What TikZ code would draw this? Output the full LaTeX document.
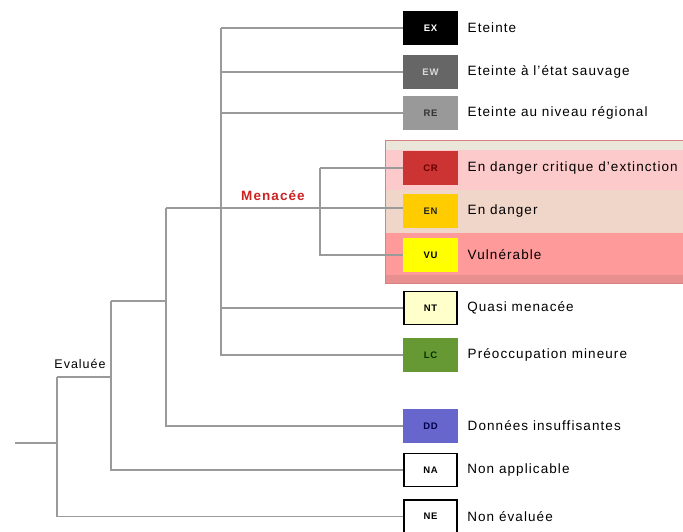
\documentclass[tikz,border=0pt]{standalone}
\usepackage{fontspec}
\setmainfont{Liberation Sans}[LetterSpace=8]
\usetikzlibrary{positioning}

\definecolor{treegray}{HTML}{9A9A9A}
\definecolor{menred}{HTML}{CC2222}
\definecolor{catEX}{HTML}{000000}
\definecolor{catEW}{HTML}{666666}
\definecolor{catRE}{HTML}{999999}
\definecolor{catCR}{HTML}{CC3333}
\definecolor{catEN}{HTML}{FFCC00}
\definecolor{catVU}{HTML}{FFFF00}
\definecolor{catNT}{HTML}{FFFFCC}
\definecolor{catLC}{HTML}{669933}
\definecolor{catDD}{HTML}{6666CC}
\definecolor{bandtop}{HTML}{EBE6DA}
\definecolor{bandCR}{HTML}{FCCACA}
\definecolor{bandEN}{HTML}{EFD6C8}
\definecolor{bandVU}{HTML}{FF9A9A}
\definecolor{bandlow}{HTML}{E89090}
\definecolor{bandedge}{HTML}{D98080}

\begin{document}
\begin{tikzpicture}[x=1pt, y=-1pt,
    tree/.style={draw=treegray, line width=1.3pt},
    catbox/.style={minimum width=55pt, minimum height=34pt, inner sep=0pt,
      font=\fontsize{9.5}{10}\selectfont\bfseries},
    framed/.style={catbox, draw=black, line width=1.6pt, minimum width=53pt, minimum height=33pt},
    catname/.style={right=6pt of #1, font=\fontsize{13.5}{15}\selectfont}]
    \useasboundingbox (0,0) rectangle (683,531);

    % threatened band
    \fill[bandedge] (385,140) rectangle (683,284);
    \fill[bandtop] (386,141) rectangle (683,150);
    \fill[bandCR] (386,150) rectangle (683,190);
    \fill[bandEN] (386,190) rectangle (683,233);
    \fill[bandVU] (386,233) rectangle (683,275);
    \fill[bandlow] (386,275) rectangle (683,283);

    % category boxes
    \node[catbox, fill=catEX, text=white] (ex) at (430.5,28) {EX};
    \node[catbox, fill=catEW, text=white!85!black] (ew) at (430.5,72) {EW};
    \node[catbox, fill=catRE, text=black!80] (re) at (430.5,113) {RE};
    \node[catbox, fill=catCR, text=black!60!red] (cr) at (430.5,168) {CR};
    \node[catbox, fill=catEN, text=black!85] (en) at (430.5,211) {EN};
    \node[catbox, fill=catVU, text=black] (vu) at (430.5,255) {VU};
    \node[framed, fill=catNT] (nt) at (430.5,308) {NT};
    \node[catbox, fill=catLC, text=black!80!green] (lc) at (430.5,355) {LC};
    \node[catbox, fill=catDD, text=black!70!blue] (dd) at (430.5,426) {DD};
    \node[framed, fill=white] (na) at (430.5,470) {NA};
    \node[framed, fill=white] (ne) at (430.5,516.5) {NE};

    \node[catname=ex] (exl) {Eteinte};
    \node[catname=ew] (ewl) {Eteinte à l’état sauvage};
    \node[catname=re] (rel) {Eteinte au niveau régional};
    \node[catname=cr] (crl) {En danger critique d’extinction};
    \node[catname=en] (enl) {En danger};
    \node[catname=vu] (vul) {Vulnérable};
    \node[catname=nt] (ntl) {Quasi menacée};
    \node[catname=lc] (lcl) {Préoccupation mineure};
    \node[catname=dd] (ddl) {Données insuffisantes};
    \node[catname=na] (nal) {Non applicable};
    \node[catname=ne] (nel) {Non évaluée};

    % junctions
    \coordinate (root) at (15,443);
    \coordinate (j1) at (57,443);
    \coordinate (j2) at (111,377);
    \coordinate (j3) at (166,301);
    \coordinate (j4) at (221,208);
    \coordinate (j5) at (320,208);

    \draw[tree] (root) -- (j1);
    \draw[tree] (j1 |- j2) -- (j2);
    \draw[tree] (j1 |- j2) -- (j1 |- ne) -- (ne.west);
    \draw[tree] (j2 |- j3) -- (j3);
    \draw[tree] (j2 |- j3) -- (j2 |- na) -- (na.west);
    \draw[tree] (j3 |- j4) -- (j3 |- dd) -- (dd.west);
    \draw[tree] (j3 |- j4) -- (en.west |- j4);
    \draw[tree] (j4 |- ex) -- (j4 |- lc) -- (lc.west);
    \draw[tree] (j4 |- ex) -- (ex.west);
    \draw[tree] (j4 |- ew) -- (ew.west);
    \draw[tree] (j4 |- re) -- (re.west);
    \draw[tree] (j4 |- nt) -- (nt.west);
    \draw[tree] (j5 |- cr) -- (j5 |- vu) -- (vu.west);
    \draw[tree] (j5 |- cr) -- (cr.west);

    \node[font=\fontsize{13.5}{15}\selectfont\bfseries, text=menred] (men) at (273,196) {Menacée};
    \node[font=\fontsize{12.5}{14}\selectfont] (eva) at (80,364) {Evaluée};
\end{tikzpicture}
\end{document}
